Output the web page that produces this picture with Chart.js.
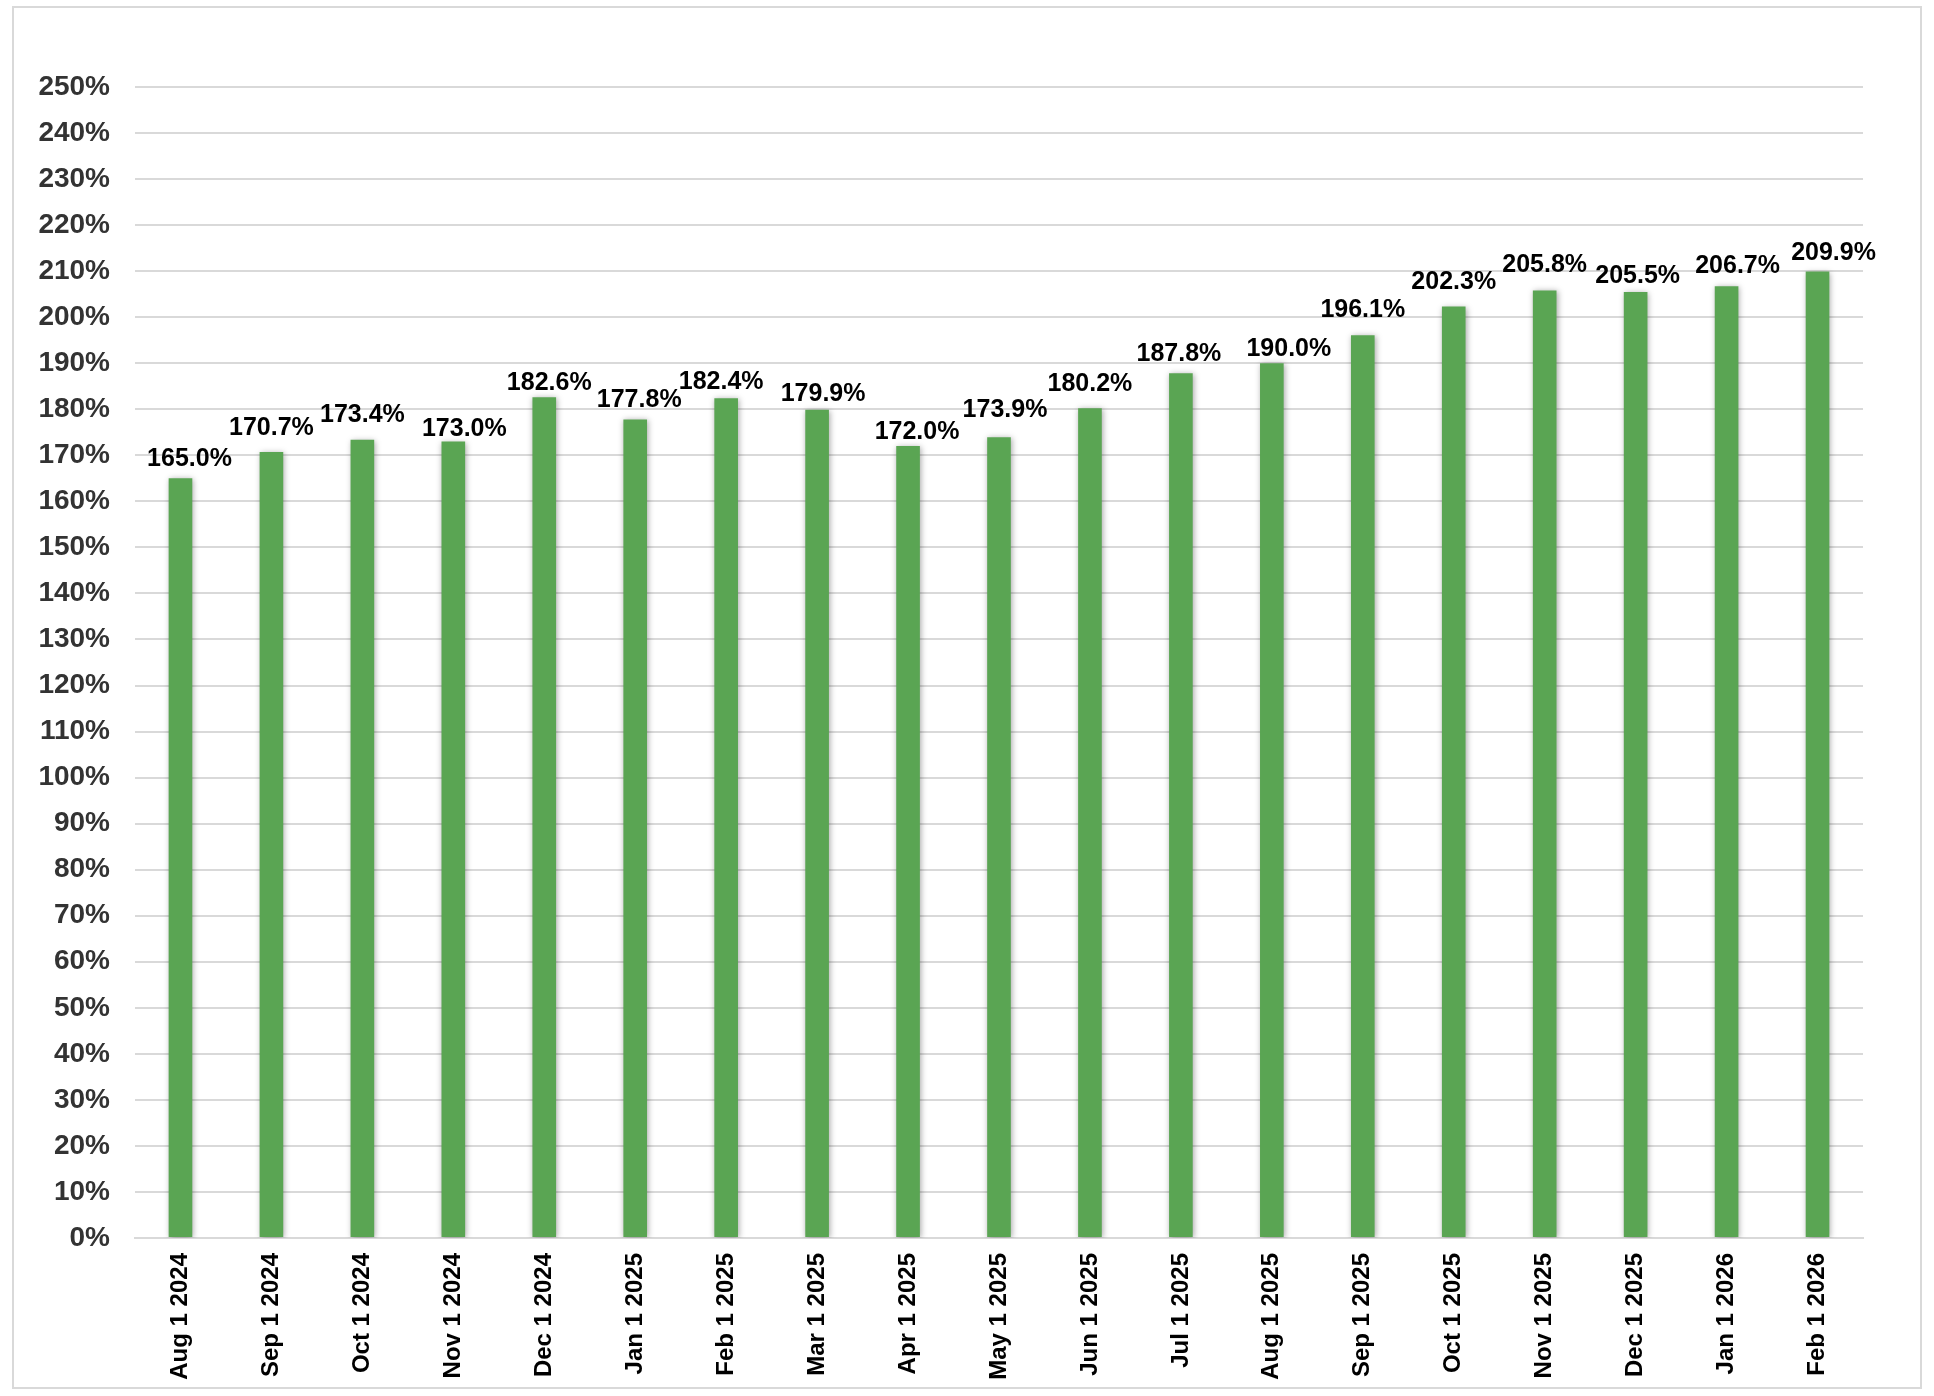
<!DOCTYPE html>
<html lang="en">
<head>
    <meta charset="UTF-8">
    <title>Monthly percentage chart</title>
    <script src="https://cdn.jsdelivr.net/npm/chart.js"></script>
    <style>
        body { margin: 0; background: #fff; font-family: "Liberation Sans", Arial, sans-serif; }
        .frame { position: absolute; left: 12px; top: 6px; width: 1906px; height: 1379px; border: 2px solid #d9d9d9; }
        .wrap { position: absolute; left: 0; top: 0; width: 1934px; height: 1396px; }
    </style>
</head>
<body>
    <div class="frame"></div>
    <div class="wrap"><canvas id="chart"></canvas></div>

    <script>
        // chart data
        const months = ["Aug 1 2024", "Sep 1 2024", "Oct 1 2024", "Nov 1 2024", "Dec 1 2024",
                        "Jan 1 2025", "Feb 1 2025", "Mar 1 2025", "Apr 1 2025", "May 1 2025",
                        "Jun 1 2025", "Jul 1 2025", "Aug 1 2025", "Sep 1 2025", "Oct 1 2025",
                        "Nov 1 2025", "Dec 1 2025", "Jan 1 2026", "Feb 1 2026"];
        const values = [165.0, 170.7, 173.4, 173.0, 182.6, 177.8, 182.4, 179.9, 172.0, 173.9,
                        180.2, 187.8, 190.0, 196.1, 202.3, 205.8, 205.5, 206.7, 209.9];
        const yMin = 0;
        const yMax = 250;
        const yStep = 10;

        // soft shadow behind the bars, like the Excel original
        const barShadow = {
            id: 'barShadow',
            beforeDatasetsDraw(chart) {
                const ctx = chart.ctx;
                ctx.save();
                ctx.shadowColor = 'rgba(0,0,0,0.35)';
                ctx.shadowBlur = 6;
                ctx.shadowOffsetX = 1;
                ctx.shadowOffsetY = 1;
            },
            afterDatasetsDraw(chart) {
                chart.ctx.restore();
            }
        };

        // value labels above each bar (labels were nudged by hand in the original)
        const valueLabels = {
            id: 'valueLabels',
            afterDatasetsDraw(chart, args, opts) {
                const ctx = chart.ctx;
                const meta = chart.getDatasetMeta(0);
                ctx.save();
                ctx.font = 'bold 25px "Liberation Sans", Arial, sans-serif';
                ctx.fillStyle = '#000';
                ctx.textAlign = 'center';
                ctx.textBaseline = 'alphabetic';
                meta.data.forEach((bar, i) => {
                    const dx = opts.dx[i] || 0;
                    const gap = opts.gap[i] != null ? opts.gap[i] : 12;
                    ctx.fillText(values[i].toFixed(1) + '%', bar.x + dx, bar.y - gap);
                });
                ctx.restore();
            }
        };

        new Chart(document.getElementById('chart'), {
            type: 'bar',
            data: {
                labels: months,
                datasets: [{
                    data: values,
                    backgroundColor: '#5aa553',
                    borderWidth: 0,
                    barPercentage: 0.52,
                    categoryPercentage: 0.5
                }]
            },
            options: {
                responsive: true,
                maintainAspectRatio: false,
                animation: false,
                layout: { padding: { left: 20, right: 71, top: 87, bottom: 0 } },
                plugins: {
                    legend: { display: false },
                    tooltip: { enabled: false },
                    valueLabels: {
                        dx:  [9, 0, 0, 11, 5, 4, -5, 6, 9, 6, 0, -2, 17, 0, 0, 0, 2, 11, 16],
                        gap: [12, 17, 18, 6, 7, 12, 9, 9, 7, 20, 17, 12, 7, 18, 18, 18, 9, 13, 12]
                    }
                },
                scales: {
                    x: {
                        grid: { display: false, drawTicks: false },
                        border: { color: '#d9d9d9', width: 2 },
                        ticks: {
                            autoSkip: false,
                            minRotation: 90,
                            maxRotation: 90,
                            padding: 15,
                            color: '#000',
                            font: { family: '"Liberation Sans", Arial, sans-serif', size: 24, weight: 'bold' }
                        },
                        afterFit(scale) { scale.height = 158; }
                    },
                    y: {
                        min: yMin,
                        max: yMax,
                        grid: { color: '#d9d9d9', lineWidth: 2, drawTicks: false },
                        border: { display: false },
                        ticks: {
                            stepSize: yStep,
                            padding: 25,
                            color: '#333',
                            font: { family: '"Liberation Sans", Arial, sans-serif', size: 28, weight: 'bold' },
                            callback: (v) => v + '%'
                        },
                        afterFit(scale) { scale.width = 115; }
                    }
                }
            },
            plugins: [barShadow, valueLabels]
        });
    </script>
</body>
</html>
